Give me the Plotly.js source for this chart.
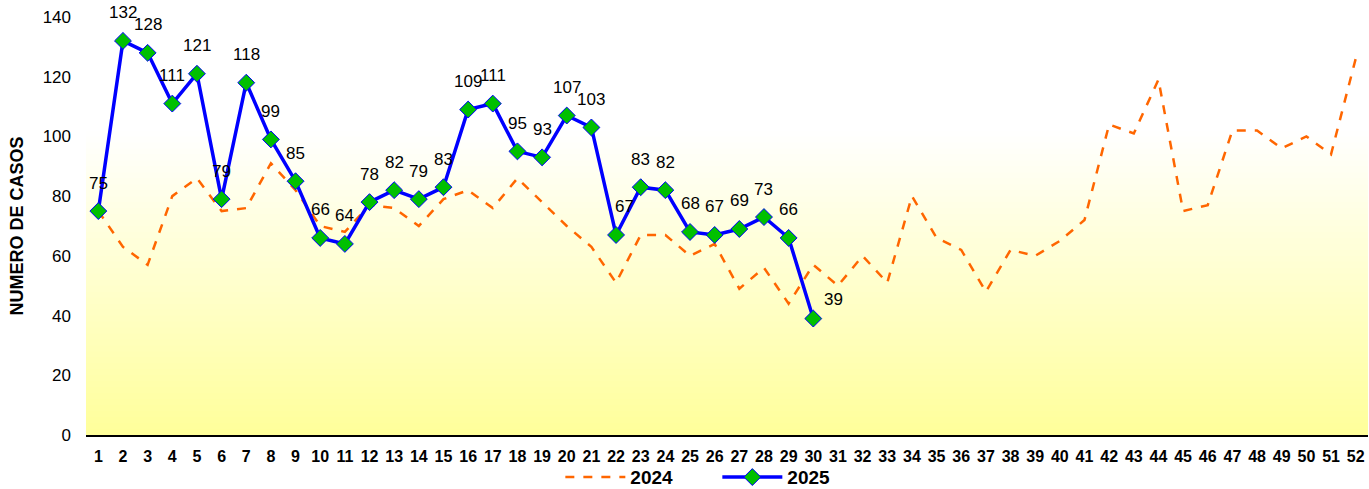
<!DOCTYPE html>
<html>
<head>
<meta charset="utf-8">
<script src="https://cdn.plot.ly/plotly-3.0.1.min.js"></script>
<style>
html,body{margin:0;padding:0;background:#fff;}
#chart{width:1369px;height:489px;}
</style>
</head>
<body>
<div id="chart"></div>
<script>
const weeks = Array.from({length:52},(_,i)=>String(i+1));
const weeks2025 = weeks.slice(0,30);
const cases2024 = [75,63,57,80,86,75,76,91,82,70,68,77,76,70,79,82,76,86,78,70,63,51,67,67,60,64,49,56,44,57,50,60,51,80,66,62,48,62,60,65,72,104,101,119,75,77,102,102,96,100,94,126];
const cases2025 = [75,132,128,111,121,79,118,99,85,66,64,78,82,79,83,109,111,95,93,107,103,67,83,82,68,67,69,73,66,39];
const yTicks = [0,20,40,60,80,100,120,140];

const tr2024 = {
  x: weeks, y: cases2024, name: '2024', type: 'scatter', mode: 'lines',
  line: {color: '#FF6600', width: 2.5, dash: 'dash'}
};
const tr2025 = {
  x: weeks2025, y: cases2025, name: '2025', type: 'scatter', mode: 'lines+markers',
  line: {color: '#0000FF', width: 3.5},
  marker: {symbol: 'diamond', size: 13, color: '#00C000', line: {color: '#0000FF', width: 1}}
};

// gradient background: white at top to pale yellow at bottom
const shapes = [];
const N = 70;
for (let i = 0; i < N; i++) {
  const t = i / N; // 0 bottom -> 1 top
  const f = Math.max(0, 1 - t / 0.72);
  const b = Math.round(255 - 100 * f);
  shapes.push({
    type: 'rect', xref: 'paper', yref: 'paper', layer: 'below',
    x0: 0, x1: 1, y0: i / N, y1: (i + 1) / N + 0.002,
    fillcolor: 'rgb(255,255,' + b + ')', line: {width: 0}
  });
}

const annotations = cases2025.map((v, i) => {
  let xs = 0, ys = 28;
  if (i === cases2025.length - 1) { xs = 20; ys = 19; }
  if (i === 21) { xs = 8; }
  return {
    x: i, y: v, text: String(v), showarrow: false,
    xshift: xs, yshift: ys,
    font: {family: 'Liberation Sans, Arial, sans-serif', size: 17, color: '#000'}
  };
});

const layout = {
  width: 1369, height: 489,
  margin: {l: 86, r: 1, t: 17, b: 54, autoexpand: false},
  paper_bgcolor: '#FFFFFF', plot_bgcolor: '#FFFFFF',
  showlegend: true,
  legend: {
    orientation: 'h', x: 0.370, xanchor: 'left', y: -0.101, yanchor: 'middle',
    font: {family: 'Liberation Sans Narrow, Arial Narrow, Liberation Sans, Arial, sans-serif', size: 19, color: '#000', weight: 'bold'},
    bgcolor: 'rgba(0,0,0,0)', itemwidth: 60,
    entrywidth: 82, entrywidthmode: 'pixels'
  },
  xaxis: {
    type: 'category', range: [-0.5, 51.5], categoryorder: 'array', categoryarray: weeks,
    showgrid: false, zeroline: false,
    showline: true, linecolor: '#000', linewidth: 2,
    ticks: '', ticklabelstandoff: 6,
    tickfont: {family: 'Liberation Sans Narrow, Arial Narrow, Liberation Sans, Arial, sans-serif', size: 16, color: '#000', weight: 'bold'},
    fixedrange: true
  },
  yaxis: {
    range: [0, 140], tickvals: yTicks, ticktext: yTicks.map(String),
    showgrid: false, zeroline: false, showline: false, ticks: '',
    ticklabelstandoff: 14,
    tickfont: {family: 'Liberation Sans, Arial, sans-serif', size: 17, color: '#000'},
    title: {text: 'NUMERO DE CASOS', standoff: 14, font: {family: 'Liberation Sans, Arial, sans-serif', size: 18, color: '#000', weight: 'bold'}},
    fixedrange: true
  },
  shapes: shapes,
  annotations: annotations
};

Plotly.newPlot('chart', [tr2024, tr2025], layout, {displayModeBar: false, staticPlot: true});
</script>
</body>
</html>
